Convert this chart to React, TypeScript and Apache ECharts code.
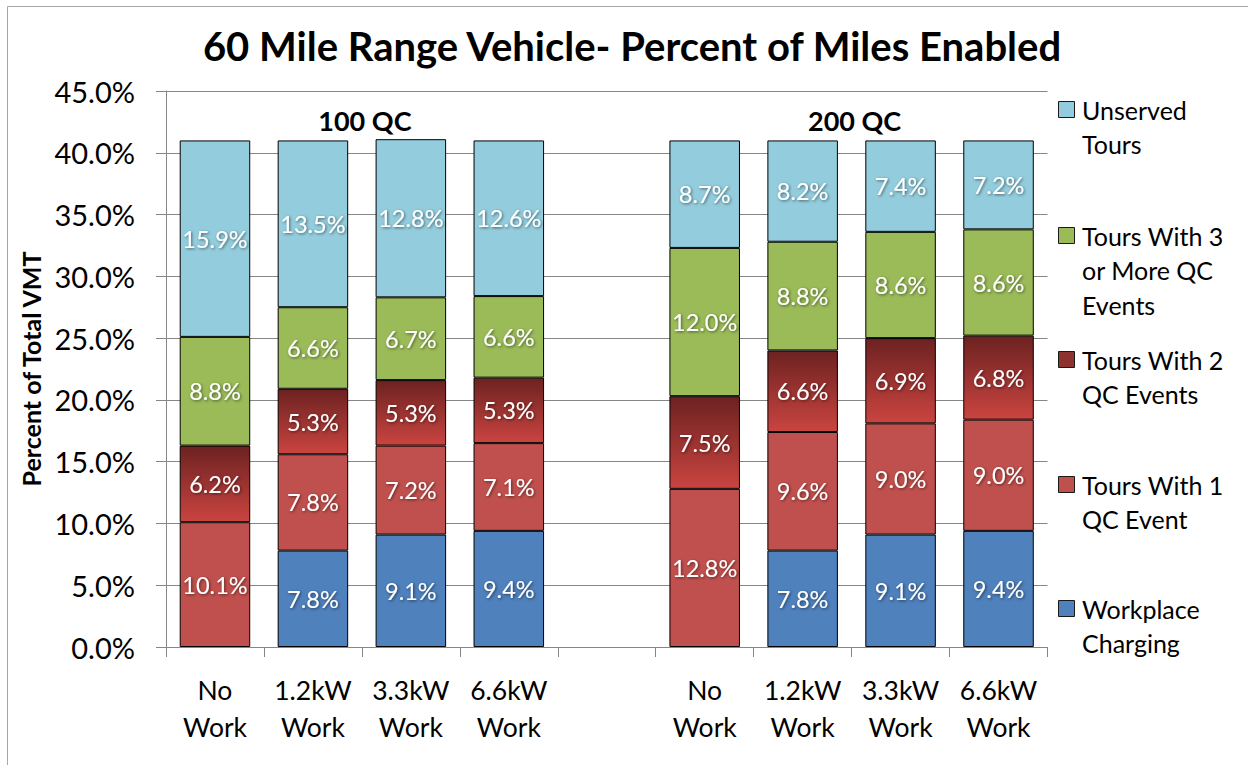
import React, { useEffect, useRef } from "react";
import * as echarts from "echarts";

const categories = ["No\nWork", "1.2kW\nWork", "3.3kW\nWork", "6.6kW\nWork", "", "No\nWork", "1.2kW\nWork", "3.3kW\nWork", "6.6kW\nWork"];
const workplace = [null, 7.8, 9.1, 9.4, null, null, 7.8, 9.1, 9.4];
const qc1 = [10.1, 7.8, 7.2, 7.1, null, 12.8, 9.6, 9.0, 9.0];
const qc2 = [6.2, 5.3, 5.3, 5.3, null, 7.5, 6.6, 6.9, 6.8];
const qc3 = [8.8, 6.6, 6.7, 6.6, null, 12.0, 8.8, 8.6, 8.6];
const unserved = [15.9, 13.5, 12.8, 12.6, null, 8.7, 8.2, 7.4, 7.2];
const seriesNames = ["Workplace\nCharging", "Tours With 1\nQC Event", "Tours With 2\nQC Events", "Tours With 3\nor More QC\nEvents", "Unserved\nTours"];
const groupLabels = ["100 QC", "200 QC"];
const yTicks = { min: 0, max: 45, interval: 5 };

const FONT = "Lato, 'Noto Sans', sans-serif";

export default function App() {
  const ref = useRef<HTMLDivElement>(null);
  useEffect(() => {
    if (!ref.current) return;
    const chart = echarts.init(ref.current, undefined, { renderer: "svg" });
    const grad = new echarts.graphic.LinearGradient(0, 0, 0, 1, [
      { offset: 0, color: "#6c2221" },
      { offset: 1, color: "#ca4440" },
    ]);
    const colors: any[] = ["#4f81bd", "#c0504d", grad, "#9bbb59", "#93cddd"];
    const legendColors = ["#4f81bd", "#c0504d", "#8e3230", "#9bbb59", "#93cddd"];
    const datasets = [workplace, qc1, qc2, qc3, unserved];
    const label = {
      show: true,
      position: "inside",
      color: "#ffffff",
      fontSize: 23.5,
      fontFamily: FONT,
      textShadowColor: "rgba(0,0,0,0.55)",
      textShadowBlur: 3,
      textShadowOffsetX: 1,
      textShadowOffsetY: 1,
      formatter: (p: any) => (p.value == null ? "" : Number(p.value).toFixed(1) + "%"),
    };
    const series = datasets.map((d, i) => ({
      name: seriesNames[i],
      type: "bar",
      stack: "total",
      data: d,
      barCategoryGap: "28%",
      itemStyle: { color: colors[i], borderColor: "#000000", borderWidth: 1 },
      label,
    }));
    const legendYs = [110, 236, 360, 485, 609];
    const legendGraphics: any[] = [];
    [4, 3, 2, 1, 0].forEach((si, k) => {
      const y = legendYs[k];
      legendGraphics.push({
        type: "rect",
        shape: { x: 1058.5, y: y - 8.5, width: 16, height: 16 },
        style: { fill: legendColors[si], stroke: "#1a1a1a", lineWidth: 1 },
      });
      legendGraphics.push({
        type: "text",
        x: 1082,
        y: y - 17.5,
        style: {
          text: seriesNames[si],
          font: `25px ${FONT}`,
          fill: "#000",
          lineHeight: 34.5,
          verticalAlign: "top",
        },
      });
    });
    const baseGraphics = [
      {
        type: "rect",
        shape: { x: 7.5, y: 6.5, width: 1300, height: 800 },
        style: { fill: "none", stroke: "#a6a6a6", lineWidth: 1 },
        z: 0,
      },
      ...legendGraphics,
    ];
    chart.setOption({
      animation: false,
      title: {
        text: "60 Mile Range Vehicle- Percent of Miles Enabled",
        left: 627,
        textAlign: "center",
        top: 21,
        textStyle: { fontFamily: FONT, fontWeight: "bold", fontSize: 40, color: "#000" },
      },
      grid: { left: 166, right: 200.5, top: 91, bottom: 118, containLabel: false },
      xAxis: {
        type: "category",
        data: categories,
        axisLine: { lineStyle: { color: "#868686" } },
        axisTick: { show: true, length: 10, alignWithLabel: false, lineStyle: { color: "#868686" } },
        axisLabel: { interval: 0, fontFamily: FONT, fontSize: 26.5, color: "#000", lineHeight: 37, margin: 24 },
      },
      yAxis: {
        type: "value",
        min: yTicks.min,
        max: yTicks.max,
        interval: yTicks.interval,
        name: "Percent of Total VMT",
        nameLocation: "middle",
        nameRotate: 90,
        nameGap: 122,
        nameTextStyle: { fontFamily: FONT, fontWeight: "bold", fontSize: 25, color: "#000" },
        axisLine: { show: true, lineStyle: { color: "#868686" } },
        axisTick: { show: true, length: 10, lineStyle: { color: "#868686" } },
        splitLine: { lineStyle: { color: "#868686", width: 1 } },
        axisLabel: {
          fontFamily: FONT,
          fontSize: 29,
          color: "#000",
          margin: 31,
          formatter: (v: number) => v.toFixed(1) + "%",
        },
      },
      series,
      graphic: baseGraphics,
    });
    const p1 = chart.convertToPixel({ xAxisIndex: 0 }, 1);
    const p2 = chart.convertToPixel({ xAxisIndex: 0 }, 2);
    const p6 = chart.convertToPixel({ xAxisIndex: 0 }, 6);
    const p7 = chart.convertToPixel({ xAxisIndex: 0 }, 7);
    const yTop = chart.convertToPixel({ yAxisIndex: 0 }, 42.6);
    chart.setOption({
      graphic: [
        ...baseGraphics,
        ...[[p1, p2], [p6, p7]].map(([a, b], i) => ({
          type: "text",
          x: ((a as number) + (b as number)) / 2 + 3,
          y: yTop as number,
          style: {
            text: groupLabels[i],
            font: `bold 27px ${FONT}`,
            fill: "#000",
            align: "center",
            verticalAlign: "middle",
          },
        })),
      ],
    });
    return () => chart.dispose();
  }, []);
  return <div ref={ref} style={{ position: "absolute", left: 0, top: 0, width: 1248, height: 765 }} />;
}
